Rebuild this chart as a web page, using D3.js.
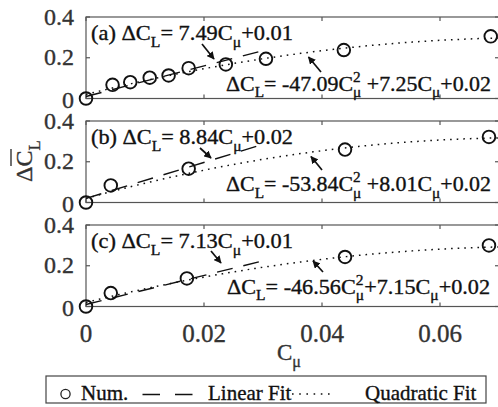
<!DOCTYPE html>
<html>
<head>
<meta charset="utf-8">
<script src="https://cdn.jsdelivr.net/npm/d3@7"></script>
<style>
  body { margin: 0; background: #fff; }
  .box { fill: none; stroke: #555; stroke-width: 1.2; }
  .tick { stroke: #555; stroke-width: 1.2; }
  .num { fill: none; stroke: #111; stroke-width: 1.9; }
  .lin { fill: none; stroke: #111; stroke-width: 1.4; stroke-dasharray: 16 11; }
  .quad { fill: none; stroke: #111; stroke-width: 1.5; stroke-dasharray: 1.6 5; }
  .arrow { stroke: #111; stroke-width: 1.7; }
</style>
</head>
<body>
<div id="chart"></div>
<script>
  // C_mu values and Delta C_L for each panel
  const cmuA = [0, 0.0045, 0.0075, 0.0108, 0.014, 0.0174, 0.0237, 0.0305, 0.0437, 0.0686];
  const dclA = [0, 0.067, 0.08, 0.102, 0.113, 0.149, 0.167, 0.195, 0.238, 0.305];
  const cmuB = [0, 0.0042, 0.0174, 0.0439, 0.0683];
  const dclB = [0, 0.084, 0.166, 0.26, 0.322];
  const cmuC = [0, 0.0042, 0.0171, 0.0439, 0.0683];
  const dclC = [0, 0.066, 0.138, 0.243, 0.30];

  // fit coefficients shown in the panels
  const linearFits = [[7.49, 0.01], [8.84, 0.02], [7.13, 0.01]];
  const quadFits = [[-47.09, 7.25, 0.02], [-53.84, 8.01, 0.02], [-46.56, 7.15, 0.02]];
  const linearRange = [0, 0.03];
  const quadRange = [0, 0.07];

  const panelLabels = ["(a)", "(b)", "(c)"];
  const xTicks = [0, 0.02, 0.04, 0.06];
  const yTicks = [0, 0.2, 0.4];

  const FONT = "Liberation Serif";
  const W = 498, H = 407;
  const left = 86, right = 499;
  const panelTops = [17, 121, 225];
  const panelH = 81.5;

  const svg = d3.select("#chart").append("svg")
    .attr("width", W)
    .attr("height", H);

  const x = d3.scaleLinear().domain([0, 0.07]).range([left, right]);

  function txt(g, px, py, size, fill) {
    return g.append("text")
      .attr("font-family", FONT)
      .attr("font-size", size)
      .attr("fill", fill || "#111")
      .attr("stroke", fill || "#111")
      .attr("stroke-width", 0.35)
      .attr("x", px)
      .attr("y", py);
  }

  // rich text with sub / sup parts: [string, kind, dx]
  function rich(g, px, py, size, parts, fill) {
    const t = txt(g, px, py, size, fill);
    var shift = 0;
    parts.forEach(function (p) {
      const kind = p[1];
      const target = kind === "sub" ? size * 0.32 : kind === "sup" ? -size * 0.42 : 0;
      t.append("tspan")
        .attr("dy", target - shift)
        .attr("dx", p[2] || 0)
        .attr("font-size", kind ? size * 0.7 : size)
        .text(p[0]);
      shift = target;
    });
    return t;
  }

  svg.append("defs").append("marker")
    .attr("id", "head")
    .attr("viewBox", "0 0 10 10")
    .attr("refX", 9).attr("refY", 5)
    .attr("markerWidth", 4.5).attr("markerHeight", 4.5)
    .attr("orient", "auto")
    .append("path")
    .attr("d", "M0,0 L10,5 L0,10 Z")
    .attr("fill", "#111");

  const panels = [
    {cmu: cmuA, dcl: dclA},
    {cmu: cmuB, dcl: dclB},
    {cmu: cmuC, dcl: dclC}
  ];

  // annotation layout per panel
  const eq1Base = [40, 144, 248];
  const eq1Len = [202, 202, 202];
  const eq2Base = [90.5, 191, 293.5];
  const eq2X = [226, 226, 227];
  const eq2Len = [265, 265, 263];
  const arrow1 = [[202, 44, 214, 59], [200, 148, 211, 158], [211, 251, 221, 263]];
  const arrow2 = [[321, 72, 308.5, 57], [322, 170, 311, 156.5], [323, 272, 313, 261]];

  panels.forEach(function (p, i) {
    const top = panelTops[i];
    const y = d3.scaleLinear().domain([0, 0.4]).range([top + panelH, top]);
    const g = svg.append("g");

    g.append("rect").attr("class", "box")
      .attr("x", left).attr("y", top)
      .attr("width", right - left).attr("height", panelH);

    xTicks.forEach(function (t) {
      g.append("line").attr("class", "tick")
        .attr("x1", x(t)).attr("x2", x(t))
        .attr("y1", top + panelH).attr("y2", top + panelH - 4);
      g.append("line").attr("class", "tick")
        .attr("x1", x(t)).attr("x2", x(t))
        .attr("y1", top).attr("y2", top + 4);
    });
    yTicks.forEach(function (t) {
      g.append("line").attr("class", "tick")
        .attr("x1", left).attr("x2", left + 4)
        .attr("y1", y(t)).attr("y2", y(t));
      g.append("line").attr("class", "tick")
        .attr("x1", right).attr("x2", right - 4)
        .attr("y1", y(t)).attr("y2", y(t));
      txt(g, 74, y(t) + (t === 0 ? 9 : 7.5), 24, "#333")
        .attr("text-anchor", "end")
        .text(t === 0 ? "0" : d3.format(".1f")(t));
    });

    // fits
    const lf = linearFits[i], qf = quadFits[i];
    const lin = d3.line()
      .x(function (c) { return x(c); })
      .y(function (c) { return y(lf[0] * c + lf[1]); });
    g.append("path").attr("class", "lin").attr("d", lin(linearRange));

    const qs = d3.range(0, 101).map(function (k) { return quadRange[0] + (quadRange[1] - quadRange[0]) * k / 100; });
    const quad = d3.line()
      .x(function (c) { return x(c); })
      .y(function (c) { return y(qf[0] * c * c + qf[1] * c + qf[2]); });
    g.append("path").attr("class", "quad").attr("d", quad(qs));

    // numerical points
    g.selectAll("circle.num").data(p.cmu).enter().append("circle")
      .attr("class", "num")
      .attr("cx", function (c) { return x(c); })
      .attr("cy", function (c, k) { return y(p.dcl[k]); })
      .attr("r", 6.3);

    // equations
    rich(g, 91, eq1Base[i], 21, [
      [panelLabels[i] + " \u0394C"], ["L", "sub"], ["= " + lf[0].toFixed(2) + "C"], ["\u03bc", "sub"], ["+" + lf[1].toFixed(2)]
    ]).attr("textLength", eq1Len[i]).attr("lengthAdjust", "spacingAndGlyphs");
    const sp = i < 2 ? " " : "";
    rich(g, eq2X[i], eq2Base[i], 21, [
      ["\u0394C"], ["L", "sub"], ["= " + qf[0].toFixed(2) + "C"], ["2", "sup"], ["\u03bc", "sub", -7.3],
      [sp + "+" + qf[1].toFixed(2) + "C"], ["\u03bc", "sub"], ["+" + qf[2].toFixed(2)]
    ]).attr("textLength", eq2Len[i]).attr("lengthAdjust", "spacingAndGlyphs");

    [arrow1[i], arrow2[i]].forEach(function (a) {
      g.append("line").attr("class", "arrow")
        .attr("x1", a[0]).attr("y1", a[1])
        .attr("x2", a[2]).attr("y2", a[3])
        .attr("marker-end", "url(#head)");
    });
  });

  // x tick labels under the last panel
  xTicks.forEach(function (t) {
    txt(svg, x(t), 342, 25, "#333")
      .attr("text-anchor", "middle")
      .text(t === 0 ? "0" : d3.format(".2f")(t));
  });

  // axis labels
  rich(svg, 277, 360, 23, [["C"], ["\u03bc", "sub"]], "#333");
  rich(svg, 0, 0, 24, [["\u0394C"], ["L", "sub"]], "#333")
    .attr("transform", "translate(32,182) rotate(-90)");
  // bar over the C of the y label
  svg.append("line")
    .attr("x1", 11).attr("x2", 11).attr("y1", 166).attr("y2", 149)
    .attr("stroke", "#333").attr("stroke-width", 1.4);

  // legend
  const lg = svg.append("g");
  lg.append("rect").attr("x", 46).attr("y", 376).attr("width", 440).attr("height", 27)
    .attr("fill", "#fff").attr("stroke", "#444").attr("stroke-width", 1.2);
  lg.append("circle").attr("cx", 65.5).attr("cy", 394).attr("r", 4.6)
    .attr("fill", "none").attr("stroke", "#222").attr("stroke-width", 1.3);
  txt(lg, 81, 400, 21).text("Num.");
  lg.append("line").attr("x1", 142.5).attr("x2", 193).attr("y1", 394.5).attr("y2", 394.5)
    .attr("stroke", "#111").attr("stroke-width", 1.3).attr("stroke-dasharray", "17.5 15");
  txt(lg, 208, 400, 21).text("Linear Fit");
  lg.append("line").attr("x1", 292).attr("x2", 330).attr("y1", 394).attr("y2", 394)
    .attr("stroke", "#111").attr("stroke-width", 1.4).attr("stroke-dasharray", "1.6 5.6");
  txt(lg, 365, 400, 21).text("Quadratic Fit");
</script>
</body>
</html>
